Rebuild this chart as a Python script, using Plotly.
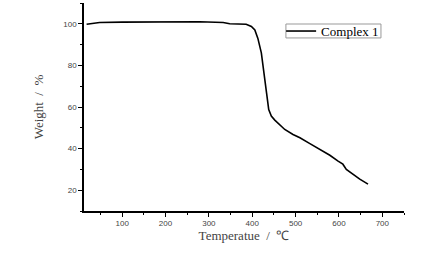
import plotly.graph_objects as go

temperature = [18, 48, 100, 202, 279, 333, 348, 386, 398, 406, 413, 421, 429, 433, 438, 444,
               452, 463, 475, 494, 510, 532, 556, 579, 598, 609, 617, 632, 648, 667]
weight = [99.8, 100.6, 100.8, 101.1, 101.0, 100.6, 100.0, 99.8, 98.7, 97.0, 93.0, 86.0, 74.8,
          66.8, 58.8, 55.6, 53.7, 51.6, 49.2, 46.8, 45.2, 42.5, 39.6, 36.8, 34.0, 32.5, 30.0,
          27.7, 25.3, 22.9]
series_name = "Complex 1"

fig = go.Figure()
fig.add_trace(go.Scatter(x=temperature, y=weight, mode="lines", name=series_name,
                         line=dict(color="black", width=1.6)))

serif = "Liberation Serif, Times New Roman, serif"
sans = "Liberation Sans, Arial, sans-serif"

fig.update_layout(
    width=436, height=254,
    margin=dict(l=84, r=32, t=3, b=43),
    paper_bgcolor="white", plot_bgcolor="white",
    showlegend=True,
    legend=dict(x=0.616, y=0.865, xanchor="left", yanchor="middle",
                borderwidth=0, bgcolor="rgba(0,0,0,0)",
                font=dict(family=serif, size=13, color="black"),
                itemwidth=30, tracegroupgap=0),
    font=dict(family=sans, size=8, color="#444444"),
    shapes=[dict(type="rect", xref="paper", yref="paper",
                 x0=0.631, x1=0.928, y0=0.832, y1=0.899,
                 line=dict(color="#999999", width=1), fillcolor="rgba(0,0,0,0)",
                 layer="below")],
)
fig.update_xaxes(
    range=[12, 750], tick0=0, dtick=100, showgrid=False, zeroline=False,
    showline=True, linecolor="black", linewidth=1.5, mirror=False,
    ticks="outside", ticklen=4, tickwidth=1.2, tickcolor="black",
    minor=dict(dtick=50, ticks="outside", ticklen=2.5, tickwidth=1.2, tickcolor="black"),
    tickfont=dict(family=sans, size=8, color="#444444"),
    title=dict(text="Temperatue  /  ℃", font=dict(family=serif, size=13, color="#444444"), standoff=4),
)
fig.update_yaxes(
    range=[10, 110], tick0=0, dtick=20, showgrid=False, zeroline=False,
    showline=True, linecolor="black", linewidth=1.5, mirror=False,
    ticks="outside", ticklen=4, tickwidth=1.2, tickcolor="black",
    minor=dict(dtick=10, ticks="outside", ticklen=2.5, tickwidth=1.2, tickcolor="black"),
    tickfont=dict(family=sans, size=8, color="#444444"),
    title=dict(text="Weight  /  %", font=dict(family=serif, size=13, color="#444444"), standoff=17),
)

fig.write_html("out.html", config={"displayModeBar": False},
               post_script="document.body.style.margin='0';")
